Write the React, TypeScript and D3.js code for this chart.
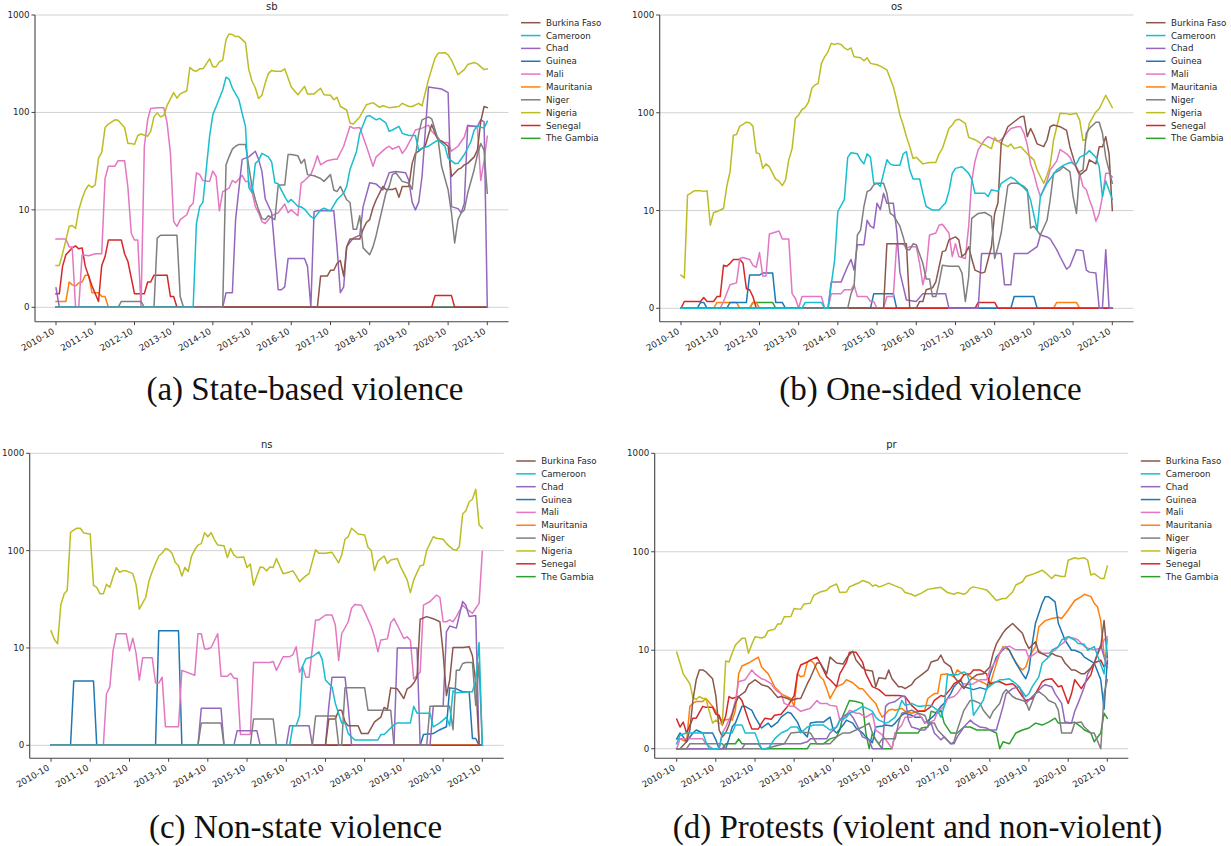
import React from "react";
import * as d3 from "d3";

// Countries in legend order, with their line colours
const COUNTRIES = ["Burkina Faso", "Cameroon", "Chad", "Guinea", "Mali", "Mauritania", "Niger", "Nigeria", "Senegal", "The Gambia"];
const COLORS = ["#8c564b", "#17becf", "#9467bd", "#1f77b4", "#e377c2", "#ff7f0e", "#7f7f7f", "#bcbd22", "#d62728", "#2ca02c"];
// Stacking order of the lines (first drawn at the bottom)
const DRAW_ORDER = ["The Gambia", "Mauritania", "Guinea", "Senegal", "Mali", "Nigeria", "Chad", "Burkina Faso", "Niger", "Cameroon"];

const Y_TICKS = [0, 10, 100, 1000];
const TICK_YEARS = [2010, 2011, 2012, 2013, 2014, 2015, 2016, 2017, 2018, 2019, 2020, 2021];
const LAST_MONTH = 132; // months after 2010-10

// Series: [months since 2010-10, monthly count]
// ---- sb: state-based violence ----
const sbBurkinaFaso = [[0,0],[80,0],[81,3.2],[83,3.2],[84,3.8],[85,3.8],[86,4.5],[87,4.8],[88,3.2],[89,6.2],[90,7],[93,7],[94,8],[95,8.7],[96,9],[97,10.5],[98,12.7],[100,17.4],[101,16.2],[103,16.2],[104,16.7],[105,13.5],[106,17.4],[108,17.4],[109,30],[110,38],[111,40],[113,45],[114,59],[115,75],[116,61],[117,52],[118,51],[120,45],[121,22],[123,26],[124,27],[125,29],[126,30],[128,35],[129,41],[130,81],[131,115],[132,112]];
const sbCameroon = [[0,0],[42,0],[43,8.6],[44,10.8],[45,12],[47,57],[48,95],[49,115],[51,170],[52,230],[53,220],[54,178],[56,135],[57,98],[58,72],[59,17],[60,15],[61,30],[62,32],[63,38],[65,35],[66,31],[67,19],[68,18.5],[70,13.7],[71,12],[72,12.8],[74,10.9],[75,10.7],[76,10.2],[77,9.7],[78,9.3],[79,9.1],[81,10],[82,10.4],[84,9.9],[85,11.2],[86,12.7],[88,14.9],[89,17.4],[90,26],[92,40],[93,61],[95,91],[96,93],[98,84],[99,87],[101,78],[102,64],[103,66],[105,72],[106,61],[108,58],[110,58],[111,41],[112,43],[114,45],[116,50],[117,52],[119,45],[120,34],[122,30],[123,30],[125,37],[127,50],[128,66],[129,72],[131,69],[132,81]];
const sbChad = [[0,2],[1,0],[51,0],[52,1.5],[54,1.5],[55,9],[57,33],[59,35],[61,40],[62,33],[63,25],[64,13],[66,9.7],[68,1.8],[69,1.8],[70,2.1],[71,5],[76,5],[77,4.2],[78,0],[79,9.8],[80,9.9],[85,9.9],[86,6.2],[87,1.5],[88,2.1],[89,6.2],[91,7.1],[93,7.4],[94,10.8],[96,19],[98,18.4],[100,16],[102,24],[104,24.7],[107,24],[108,20],[109,12],[110,10],[111,12],[112,22],[113,61],[114,182],[116,178],[118,174],[120,160],[121,10.8],[123,10.3],[124,9.7],[125,11.7],[126,73],[128,72],[129,72],[130,84],[131,80],[132,0]];
const sbGuinea = [[0,0],[132,0]];
const sbMali = [[0,7],[3,7],[4,6.2],[5,6.2],[6,0],[7,0],[8,5.4],[10,5.3],[12,5.5],[14,5.5],[15,21],[16,28],[18,28],[19,32],[21,32],[22,17],[23,7.6],[24,6.9],[25,6.9],[26,0],[27,45],[28,84],[29,110],[31,112],[33,112],[34,78],[35,38],[36,8.8],[37,8.3],[38,9],[40,9.5],[41,10.8],[42,11.7],[43,24],[44,23],[45,20],[47,19.6],[48,25],[49,22],[50,9.9],[51,15.4],[52,16],[53,16.7],[54,20],[55,19],[57,22.6],[58,19.6],[59,19.6],[60,15.4],[61,10.8],[62,9.7],[63,8.8],[64,8.6],[66,9.4],[68,9.7],[70,11.5],[71,9.7],[72,10],[74,9.4],[75,18.8],[76,20],[78,23],[79,28],[80,36],[81,29],[83,32],[85,33],[86,33],[88,45],[90,72],[91,69],[93,70],[95,45],[97,28],[98,35],[101,43],[102,45],[103,42],[105,45],[106,38],[107,42],[109,56],[110,66],[112,69],[114,74],[115,64],[117,55],[118,49],[120,49],[121,40],[123,45],[125,56],[126,74],[128,72],[129,69],[130,20],[131,32],[132,57]];
const sbMauritania = [[0,0.6],[3,0.6],[4,2.6],[5,2.3],[6,2.2],[7,2.5],[8,2.6],[9,3.3],[10,3.3],[11,1.5],[13,1.5],[14,1.1],[15,1.1],[16,0],[132,0]];
const sbNiger = [[0,0],[19,0],[20,0.6],[26,0.6],[27,0],[30,0],[31,7.1],[32,7.4],[37,7.4],[38,1.1],[39,0],[51,0],[52,29],[53,35],[54,42],[55,45],[56,47],[58,47],[59,28],[60,17.4],[61,12.7],[62,10],[63,9.1],[64,9],[65,9.4],[67,9],[68,18],[70,18],[71,37],[72,37],[74,36],[75,30],[76,33],[77,23],[79,22.4],[81,21],[82,19.6],[84,23],[85,16],[86,15.4],[87,17.4],[89,12.7],[90,11.9],[91,8],[92,8],[93,9.4],[94,6.1],[96,5.4],[97,6.2],[98,7.4],[101,14.8],[102,17.4],[103,23],[104,24],[106,19.6],[108,18.8],[109,16.2],[110,35],[111,61],[112,84],[114,90],[115,86],[117,52],[118,28],[120,16],[121,9.7],[122,6.6],[123,9],[124,9.7],[125,10],[126,14.8],[128,26],[129,37],[130,48],[131,41],[132,14.8]];
const sbNigeria = [[0,4.3],[1,4.3],[2,5.5],[4,8.3],[5,8.4],[6,8.1],[7,10],[8,13],[9,16],[10,18],[11,17],[12,18],[13,34],[14,39],[15,70],[16,76],[18,84],[19,83],[21,70],[22,48],[23,48],[24,47],[25,58],[26,60],[28,57],[29,64],[30,90],[31,99],[32,90],[33,93],[34,118],[36,160],[37,140],[38,155],[40,167],[41,290],[42,270],[43,265],[44,280],[45,280],[47,355],[48,295],[49,295],[50,330],[51,345],[52,560],[53,640],[54,630],[55,600],[56,600],[58,520],[59,275],[60,210],[61,178],[62,139],[63,150],[64,200],[65,250],[66,270],[67,265],[69,265],[70,280],[72,182],[74,152],[76,185],[77,155],[79,155],[81,177],[82,152],[84,150],[85,135],[86,143],[87,115],[89,106],[90,78],[91,76],[93,90],[95,120],[97,126],[99,113],[100,117],[102,112],[105,115],[106,124],[108,115],[109,115],[111,124],[112,117],[113,158],[114,217],[116,362],[117,407],[119,410],[120,390],[121,345],[123,244],[125,275],[126,310],[128,325],[129,315],[131,275],[132,280]];
const sbSenegal = [[0,1.4],[1,1.4],[2,4.2],[3,5.4],[5,6.1],[6,6.3],[7,6],[8,6.1],[9,4.2],[11,2.2],[13,0.6],[14,4.3],[15,5.2],[16,6.9],[20,6.9],[21,5.5],[22,4.7],[24,1.4],[27,1.4],[28,2.6],[29,2.6],[30,3.3],[34,3.3],[35,1.1],[36,1.1],[37,0],[115,0],[116,1.2],[121,1.2],[122,0],[132,0]];
const sbTheGambia = [[0,0],[132,0]];

// ---- os: one-sided violence ----
const osBurkinaFaso = [[0,0],[62,0],[63,6.6],[69,6.6],[70,0],[72,0],[73,0.7],[74,0.7],[75,1.9],[77,2.1],[78,2.7],[80,5.8],[81,5.9],[82,7],[84,7.3],[85,7],[86,5.3],[87,5.6],[88,6.3],[89,5.1],[90,3.9],[92,3.6],[93,3.7],[95,6.3],[96,9.7],[97,12],[98,49],[100,72],[102,81],[104,91],[105,92],[106,57],[107,69],[108,59],[109,48],[111,45],[112,53],[113,72],[114,75],[116,72],[118,66],[119,45],[121,27],[122,23],[124,26],[125,33],[127,30],[128,45],[129,45],[130,57],[131,38],[132,10]];
const osCameroon = [[0,0],[37,0],[38,0.6],[43,0.6],[44,0],[45,0],[47,4.9],[48,9.9],[50,13],[51,35],[52,39],[54,38],[55,33],[56,30],[57,38],[58,35],[59,19],[60,19],[61,17.6],[62,24],[63,33],[64,30],[65,29],[67,29],[68,38],[69,40],[70,26],[71,21],[73,21],[74,15],[75,11],[77,10.1],[79,10.1],[81,12],[82,15.7],[83,24],[84,27],[86,28],[88,24],[89,21],[90,15],[93,15],[94,13.9],[95,16.3],[97,15.7],[98,19],[99,20],[101,22],[102,21],[104,18.3],[105,17],[106,15.7],[107,12.8],[109,8],[110,13.9],[112,19],[115,26],[117,29],[119,31],[121,30],[122,35],[124,38],[125,41],[127,35],[128,28],[129,13.9],[130,20],[132,13]];
const osChad = [[0,0],[45,0],[46,2.7],[49,2.7],[51,4.3],[52,5],[53,3.9],[54,6.5],[56,6.5],[57,9],[58,8.4],[59,8.2],[60,11.9],[61,10.2],[62,15],[63,11.9],[65,11.9],[66,8],[67,3.7],[69,0.85],[72,0.7],[74,1.5],[81,1.5],[82,0],[91,0],[92,5.6],[98,5.6],[99,2.4],[101,2.4],[102,5.6],[106,5.6],[109,6.3],[110,7.5],[112,7.3],[113,7.1],[115,6],[116,5.3],[118,4],[119,4.3],[121,6],[123,5.9],[124,3.9],[125,3.7],[127,3.6],[128,0],[129,0],[130,6],[131,0],[132,0]];
const osGuinea = [[0,0],[5,0],[6,0.6],[7,0.6],[8,0],[14,0],[15,0.6],[20,0.6],[21,3.4],[24,3.4],[25,3.6],[28,3.6],[29,0.6],[31,0.6],[32,0],[58,0],[59,1.5],[65,1.5],[66,0],[101,0],[102,1.2],[108,1.2],[109,0],[132,0]];
const osMali = [[0,0],[12,0],[13,0.7],[15,2.4],[17,2.6],[18,5.1],[19,5.2],[21,5],[22,4.4],[23,4.2],[24,5.7],[25,3.3],[26,3.3],[27,7.6],[28,7.7],[30,7.9],[31,7.1],[33,7.1],[34,1.5],[35,1],[36,0],[37,1.2],[43,1.2],[44,0],[45,0],[46,1.5],[49,1.5],[50,1.9],[52,1.9],[53,2.4],[54,1.2],[57,1.2],[58,0.7],[59,0.7],[60,0],[62,0],[63,1.2],[65,1.2],[66,6.6],[68,6.6],[69,6.1],[70,6.3],[72,6.3],[73,4.6],[74,2.4],[75,3.9],[76,7.5],[78,7.7],[79,8.5],[80,8.6],[82,7.7],[83,5.3],[84,6.6],[85,5.3],[87,5.1],[88,8.4],[89,20],[90,32],[91,42],[93,53],[94,57],[96,53],[97,51],[98,53],[100,64],[101,69],[103,72],[104,72],[105,62],[106,47],[107,30],[108,24],[109,17.6],[110,13.9],[112,20],[113,26],[115,32],[116,42],[117,40],[118,38],[119,35],[120,30],[121,28],[122,24],[123,17.6],[124,16.3],[125,13],[126,10.5],[127,8.9],[128,9.7],[129,13.9],[130,24],[131,24],[132,22]];
const osMauritania = [[0,0],[10,0],[11,0.6],[17,0.6],[18,0],[21,0],[22,0.6],[23,0.6],[24,0],[114,0],[115,0.6],[121,0.6],[122,0],[132,0]];
const osNiger = [[0,0],[51,0],[52,1.5],[53,2.2],[54,7.5],[55,8],[56,11],[57,15.6],[58,16.3],[59,18.3],[60,19],[62,19],[63,15],[64,9.7],[65,9.5],[67,8.4],[68,7.3],[69,6],[70,6],[71,6.6],[72,6.5],[74,4.6],[75,3],[76,3],[77,1.2],[78,1.2],[79,2.6],[80,4.4],[82,4.3],[85,4.3],[86,3.6],[87,0.7],[88,3.2],[89,9.2],[91,9.7],[93,9.8],[95,9.4],[96,5.1],[97,6.3],[98,7.7],[100,18],[101,19],[103,19],[105,17.6],[106,16.3],[107,8.2],[108,8.4],[110,7.5],[112,9],[113,12.8],[114,24],[116,26],[117,28],[119,25],[120,13.9],[121,9.7],[122,25],[123,26],[124,62],[125,69],[127,80],[128,80],[129,62],[130,35],[132,19]];
const osNigeria = [[0,3.4],[1,3.1],[2,14.4],[4,15.9],[6,15.9],[7,15.7],[8,15.9],[9,8.5],[10,9.8],[11,9.9],[13,10.5],[14,17.6],[15,25],[16,59],[17,60],[18,73],[19,76],[20,80],[21,79],[22,73],[23,39],[24,38],[25,27],[26,30],[27,28],[28,24],[29,21],[30,20],[31,18],[32,20.6],[33,33],[34,43],[35,88],[36,95],[37,108],[38,113],[39,129],[40,178],[41,192],[42,200],[43,320],[44,375],[45,420],[46,513],[47,500],[48,513],[49,500],[50,460],[51,440],[52,460],[53,375],[55,365],[56,340],[57,365],[58,320],[60,310],[61,300],[63,275],[65,185],[66,135],[67,95],[68,75],[69,57],[70,45],[71,34],[72,35],[74,30],[76,31],[78,31],[79,38],[80,43],[82,69],[83,75],[84,84],[85,86],[87,78],[88,56],[90,53],[92,48],[93,47],[95,43],[96,56],[97,51],[98,49],[100,45],[101,48],[102,43],[104,45],[106,38],[108,33],[109,26],[111,19],[112,23],[113,29],[114,52],[116,99],[118,98],[119,96],[121,99],[122,84],[123,52],[124,54],[125,78],[127,102],[128,110],[130,151],[132,113]];
const osSenegal = [[0,0],[1,0.7],[6,0.7],[7,1.1],[8,0.7],[10,0.7],[11,1.2],[12,1.2],[13,4.4],[14,4.3],[15,4.6],[16,5],[18,5],[19,4.6],[20,2],[21,1.9],[22,1.2],[23,0],[90,0],[91,0.6],[96,0.6],[97,0],[132,0]];
const osTheGambia = [[0,0],[21,0],[22,0.6],[28,0.6],[29,0],[132,0]];

// ---- ns: non-state violence ----
const nsBurkinaFaso = [[0,0],[84,0],[85,2.7],[87,2.7],[88,3.6],[89,3.6],[90,2.4],[91,2],[94,2],[95,1.2],[97,1.2],[99,2.4],[101,2.9],[102,3.9],[103,3.7],[104,5.9],[106,5.8],[107,5.3],[108,4.8],[109,5.8],[110,6],[111,6.4],[112,7],[113,19.7],[115,21],[117,20],[119,18.6],[120,9.5],[121,5.1],[122,6.7],[123,10.1],[126,10.1],[128,10.3],[129,9.2],[130,6.5],[131,0],[132,0]];
const nsCameroon = [[0,0],[73,0],[74,2],[75,2],[76,3],[77,8.1],[78,8.9],[80,9.1],[82,9.6],[83,8.8],[84,6.7],[86,6],[87,4.3],[89,2.3],[90,2.3],[91,1.2],[93,0.55],[100,0.55],[101,1.1],[102,1.1],[105,2.1],[106,2.3],[110,2.3],[111,4],[112,3.3],[116,3.3],[117,1.9],[118,2.1],[119,2.3],[121,2.9],[122,2],[123,5.6],[124,5.4],[128,5.5],[129,5.5],[130,6.7],[131,11.4],[132,0]];
const nsChad = [[0,0],[45,0],[46,3.8],[52,3.8],[53,0],[56,0],[57,1.5],[63,1.5],[64,0],[72,0],[73,2],[79,2],[80,0],[84,0],[85,4],[86,7],[90,7],[91,4],[92,0],[105,0],[106,10],[112,10],[113,0],[116,0],[117,4],[120,4],[121,14.7],[122,16.8],[124,16],[126,30],[127,27.5],[128,21],[130,21.5],[131,0],[132,0]];
const nsGuinea = [[0,0],[6,0],[7,6.6],[13,6.6],[14,0],[32,0],[33,15],[39,15],[40,0],[113,0],[114,1.1],[117,1.2],[119,1.6],[121,1.9],[122,5.9],[124,5.8],[126,5.5],[128,5.5],[129,0.7],[130,0.7],[131,0],[132,0]];
const nsMali = [[0,0],[16,0],[17,5.3],[18,6],[19,9.7],[20,14],[23,14],[24,9.7],[25,12.6],[26,9.5],[27,6.7],[28,9],[31,9],[32,6.4],[33,6.4],[34,7],[35,1.9],[39,1.9],[40,7.7],[44,7.2],[45,14],[46,14],[47,9.9],[48,9.9],[49,10.1],[51,14],[52,7.1],[54,7.1],[55,7.4],[56,6.9],[57,6.9],[58,1.1],[61,1.1],[62,8.5],[67,8.5],[68,8.6],[69,7.7],[71,9.1],[73,9.1],[74,9.3],[75,10.3],[76,7.5],[77,8.1],[78,7],[79,7],[81,19.4],[82,19.4],[84,21.8],[86,21.8],[87,17.2],[88,8.7],[89,14],[91,18.6],[92,25.6],[93,27.9],[95,27.5],[96,23.5],[98,16.6],[99,13],[100,9.6],[101,12.1],[103,12.4],[104,18.2],[105,20],[106,17.2],[108,12.5],[109,13],[110,12],[111,6.8],[113,7.5],[114,27.5],[116,30],[118,35],[119,33],[120,18.6],[121,18.6],[122,19.4],[123,18.6],[124,21],[126,27.5],[127,25.6],[129,22.7],[130,25.6],[131,28.7],[132,98]];
const nsMauritania = [[0,0],[132,0]];
const nsNiger = [[0,0],[45,0],[46,2.3],[52,2.3],[53,0],[61,0],[62,2.7],[68,2.7],[69,0],[80,0],[81,3],[87,3],[88,0],[89,0],[90,5.9],[96,5.9],[97,3.6],[104,3.6],[105,0],[115,0],[116,4],[122,4],[123,1.6],[124,7.7],[125,7.7],[126,8.4],[127,8.5],[129,8.5],[130,4.1],[131,8.5],[132,0]];
const nsNigeria = [[0,15],[1,12.3],[2,11],[3,28],[4,36],[5,39],[6,154],[7,163],[8,170],[9,170],[10,152],[12,148],[13,44],[14,42],[15,36],[16,36],[17,45],[18,42],[19,54],[20,67],[21,60],[22,62],[23,62],[25,58],[26,45],[27,25],[28,29],[29,33],[30,49],[31,61],[32,74],[33,88],[34,94],[35,105],[36,102],[37,94],[38,76],[39,70],[40,55],[41,67],[42,61],[43,87],[44,102],[45,114],[46,118],[47,153],[48,139],[49,153],[50,130],[51,114],[53,112],[54,85],[55,105],[56,90],[57,85],[59,86],[60,67],[61,73],[62,44],[63,55],[64,68],[65,67],[66,62],[67,68],[68,67],[69,83],[71,58],[72,59],[74,62],[75,55],[76,48],[78,55],[79,58],[81,102],[82,94],[84,94],[86,96],[88,75],[89,90],[90,131],[91,139],[92,170],[94,148],[96,145],[97,108],[98,101],[99,62],[100,78],[102,88],[103,74],[104,80],[106,83],[107,68],[109,50],[110,37],[111,50],[113,70],[114,71],[115,101],[117,139],[118,134],[120,131],[121,118],[123,103],[124,101],[125,110],[126,238],[127,257],[128,318],[129,337],[130,427],[131,184],[132,170]];
const nsSenegal = [[0,0],[132,0]];
const nsTheGambia = [[0,0],[132,0]];

// ---- pr: protests ----
const prBurkinaFaso = [[0,0],[1,0],[3,0.7],[4,1.9],[5,4.9],[6,7],[7,8],[8,8],[9,7.8],[11,7.1],[12,5.4],[13,1.9],[14,1.2],[15,1.6],[16,2.4],[18,4.6],[19,5.3],[21,5.8],[22,6.5],[24,7],[26,6.5],[28,6.3],[29,6],[31,5.2],[32,5.3],[34,5.1],[35,4.9],[37,5.1],[38,5.1],[40,6.6],[41,7.2],[43,8.7],[44,8.7],[46,7.6],[47,9.3],[49,8.7],[51,8.6],[52,9.2],[54,9.9],[55,9],[57,8.2],[58,8],[60,7.9],[61,6.3],[62,7.2],[64,7.1],[65,8],[66,7.1],[68,6.3],[69,6.3],[70,6.1],[72,6.5],[73,7],[75,7.5],[77,8],[78,8.8],[80,9],[81,9.5],[82,8.8],[84,8.3],[85,7.3],[87,6.5],[88,6.1],[90,7],[92,7.5],[94,7.6],[96,8.3],[97,9.7],[98,11.6],[100,15],[101,16.4],[103,18.7],[104,17.3],[106,14.9],[107,12],[108,10.4],[110,12.2],[111,9.8],[113,9.5],[114,9.3],[115,9.7],[116,9.5],[118,9.3],[119,8.7],[121,8],[122,8],[124,7.6],[125,7.6],[127,8.2],[128,8.7],[130,10.9],[131,20],[132,9.3]];
const prCameroon = [[0,0.5],[1,1.4],[3,1.6],[8,1.6],[9,0.7],[10,0],[13,0],[14,1.6],[17,1.6],[18,2.4],[20,2.4],[21,1.6],[24,1.6],[25,0.7],[26,0],[28,0],[30,1],[32,1.6],[34,1.9],[35,2.2],[37,2.2],[38,1.6],[40,2.2],[42,2.4],[45,2.4],[47,1.9],[49,2.2],[50,2.9],[52,3.2],[53,3.6],[55,3.9],[57,4.3],[59,4],[60,3.8],[61,3.2],[62,2.9],[64,2.6],[65,2.7],[67,3.2],[68,3.9],[69,4.9],[70,4.4],[72,4.6],[74,4.3],[75,4.3],[77,4.4],[78,4.4],[80,3.9],[81,3.2],[82,4.3],[83,7.5],[86,7.5],[88,7.8],[89,7.6],[90,6.6],[91,3.4],[92,3.9],[94,4.9],[95,6.1],[97,6.6],[99,7],[100,7],[102,7.1],[104,6.6],[105,6.3],[107,5.3],[108,5.6],[109,6.3],[111,7.3],[112,8.7],[114,9.3],[115,10],[117,10.9],[118,12.7],[120,13.7],[122,12.7],[123,11.7],[125,11.5],[126,10],[128,10.9],[129,9.5],[131,7.6],[132,13]];
const prChad = [[0,0],[20,0],[21,0.5],[38,0.5],[40,0.7],[41,1],[46,1],[47,1.6],[49,2.2],[50,2.9],[51,3.3],[53,3.6],[54,3.2],[55,2.6],[56,1.9],[57,1.2],[59,0.9],[60,0],[63,0],[64,4.3],[65,4.6],[67,4.8],[69,5.3],[70,5.3],[71,2.9],[72,2.2],[75,1.9],[76,1.9],[78,2.6],[79,1.6],[81,0.9],[82,1.2],[84,0.5],[85,0.5],[86,1.2],[88,2.2],[90,2.9],[91,2.6],[93,2.2],[95,2.1],[96,1.9],[98,1.9],[100,4.3],[101,5.6],[103,6.1],[105,6.3],[106,5.6],[107,4.6],[109,5.3],[110,5.6],[112,6.3],[113,6.5],[115,6.3],[116,5.6],[118,4.6],[119,2.7],[121,2.6],[122,3.8],[123,4.6],[125,6.3],[126,7.6],[128,8.7],[129,9.7],[130,11.3],[131,9.3],[132,8.3]];
const prGuinea = [[0,1],[1,1.6],[2,1.2],[3,0.7],[5,1.6],[6,1.9],[8,1.6],[11,1.6],[12,0.9],[13,0],[15,0],[16,1],[17,2.2],[18,2.6],[20,4.3],[21,4.3],[23,3.9],[24,3.2],[26,2.1],[28,2.6],[29,2.2],[31,2.7],[32,3.2],[34,3.7],[35,3.6],[37,2.7],[38,1.9],[40,1.2],[41,2.6],[43,2.7],[45,2.7],[47,3.2],[48,1.9],[49,1.6],[51,2.4],[52,2.9],[54,2.6],[55,2.1],[57,1.6],[58,1.2],[60,0.6],[61,2.2],[63,2.3],[64,2.4],[66,2.3],[67,2.6],[69,3.4],[70,3.6],[72,3.4],[73,3.2],[75,3.2],[76,2.6],[78,3.1],[79,3.4],[81,4.3],[82,4.6],[84,5.6],[85,6.3],[87,7],[88,6.3],[90,6.1],[91,6],[93,6.2],[95,6],[96,7.5],[98,9.3],[99,9.7],[101,10.9],[102,10],[104,8.7],[106,7.6],[107,7.1],[108,8],[109,11.7],[110,18.8],[112,30],[113,35],[114,35],[116,31],[117,18.8],[119,12.7],[121,10],[122,10],[124,9.7],[125,9.3],[127,8.9],[128,8.7],[130,7],[131,4],[132,9]];
const prMali = [[0,0],[1,1],[2,1],[8,1],[9,0.5],[11,0],[13,0],[14,1.6],[15,2.2],[17,3.6],[18,4.9],[19,6.8],[21,7],[22,7.5],[23,8],[24,7.6],[26,7.1],[27,7],[29,6.6],[30,6.1],[31,5.8],[32,5.6],[33,4.6],[35,4.3],[36,4.3],[38,3.8],[39,3.9],[41,4.1],[43,4.9],[44,4.6],[46,4.6],[47,4.4],[49,4.3],[50,2.9],[51,2.9],[53,3.9],[55,3.6],[56,3.6],[58,3.2],[60,3.6],[61,1.9],[63,1.4],[65,0.5],[66,0],[67,1.6],[69,2.4],[70,3.2],[72,3.2],[74,3.6],[76,2.7],[77,2.6],[79,2.9],[80,3.8],[82,4.3],[83,5.1],[85,5.3],[86,5.6],[88,6.6],[90,6.5],[91,6.6],[93,7],[95,7],[96,8],[98,9],[99,9.7],[100,10.5],[102,11],[103,10.5],[104,10.1],[107,10.1],[108,9.2],[110,9.7],[111,10],[112,9.7],[114,9.7],[116,10],[117,10.9],[119,12.2],[120,13.7],[122,13.2],[123,12.7],[125,10.9],[126,10.5],[128,10.1],[130,10.5],[131,12.7],[132,13.7]];
const prMauritania = [[0,1],[1,1],[3,0.7],[4,4.3],[5,4.6],[6,4.8],[8,4.8],[9,5.1],[11,4.3],[12,3.8],[13,3.1],[14,2.9],[16,3],[17,2.9],[18,3.9],[19,7.6],[20,8.4],[22,8.7],[24,9.1],[25,9.3],[26,8.3],[28,7.6],[29,7],[30,6.3],[32,5.6],[33,5.4],[35,5.1],[36,4.3],[37,7.6],[38,7.3],[39,7.4],[40,8.8],[41,9],[42,8.7],[44,7.3],[45,7],[46,6.1],[47,5.1],[49,6.3],[51,6.6],[52,7],[54,6.7],[56,6.1],[57,6.1],[59,5.3],[61,4.6],[62,3.8],[63,3.2],[65,3.9],[66,4],[67,3.9],[69,4.1],[70,3.8],[72,3.6],[74,3.8],[76,3.9],[77,5.1],[79,5.6],[80,5.6],[81,7.5],[83,7.6],[85,7.3],[86,8],[88,7.5],[89,7.6],[91,7.1],[92,7],[94,6.7],[95,6.5],[96,6.4],[97,7.6],[99,9.7],[100,10.9],[102,10],[103,9.3],[105,8.3],[106,8],[107,8.3],[108,9.3],[110,10.9],[111,17.3],[113,20],[115,21],[117,21.6],[118,21],[120,25.6],[122,32],[124,35],[125,37],[127,35],[128,30],[129,27.7],[130,20],[131,9.5],[132,9.2]];
const prNiger = [[0,0],[3,0],[4,0.5],[14,0.5],[15,0],[27,0],[33,0.5],[35,1.6],[38,1.7],[41,1.6],[43,0.5],[47,0.5],[49,1.2],[51,1.6],[53,1.6],[55,1.9],[57,2.2],[59,2.6],[60,1.6],[61,0.9],[62,0.5],[63,1],[67,1],[68,2.6],[69,3.6],[71,3.8],[72,3.9],[74,3.6],[76,3.4],[77,2.6],[79,2.6],[80,1.9],[82,1.2],[84,0.5],[85,0.7],[86,1.9],[88,3.9],[90,4.9],[91,4.9],[93,4.6],[94,3.9],[96,3.1],[97,3.8],[99,4.6],[100,5.6],[101,6],[103,5.3],[104,5.1],[106,4.9],[107,4.8],[108,3.9],[110,5.6],[111,5.8],[113,5.3],[114,4.9],[116,4.6],[117,3.9],[118,1.6],[121,1.6],[122,2.6],[124,2.7],[125,2.2],[127,1.6],[128,1.6],[130,0],[131,5.6],[132,7]];
const prNigeria = [[0,9.8],[1,8.7],[2,7.6],[4,6.6],[5,5.2],[6,5],[7,5.3],[8,5.1],[9,5.1],[10,3.8],[11,2.6],[12,2.9],[13,2.6],[14,2.5],[15,8.9],[16,8.8],[17,9.7],[18,11.3],[20,13.2],[21,13.2],[22,9.7],[23,11.5],[24,13.7],[26,13.3],[27,13.7],[28,15.8],[30,16.3],[31,18.5],[32,18.5],[33,21.9],[35,22],[36,26.6],[38,26],[39,29.5],[41,30],[42,36],[44,39],[46,40.7],[47,44],[49,47],[50,38.5],[52,39],[53,44],[55,47],[56,48.5],[57,51],[59,48.5],[60,45],[61,46],[62,44],[63,45],[65,48],[67,45],[69,42.5],[70,38.5],[72,37],[73,35.5],[75,38],[77,41.5],[79,42.5],[81,43.5],[83,38.5],[85,37],[86,38.5],[88,37],[89,38.5],[90,42.5],[91,44],[93,42.5],[95,41],[96,38],[98,32],[100,33.5],[101,33.5],[103,39],[104,46],[106,49.6],[107,56],[109,59],[111,62.6],[112,65],[113,61.5],[115,53.5],[116,58],[118,56],[119,56],[120,82],[122,87],[123,85],[125,87],[126,82],[127,58],[128,60],[130,53.5],[131,53.5],[132,71.6]];
const prSenegal = [[0,3],[1,2.2],[2,2.7],[3,1.6],[5,3.1],[6,3.1],[8,4.3],[9,4.2],[11,4.2],[12,3.5],[13,3.4],[14,2.4],[15,3.3],[16,5.3],[17,5.1],[19,5.3],[20,4.9],[22,2.9],[23,2],[25,2],[26,2.6],[27,3.1],[29,3],[30,3.4],[32,3.5],[33,3.9],[34,4.3],[36,5.4],[37,7.6],[38,8.5],[40,8.8],[41,9],[43,9.3],[44,8.7],[46,7.3],[47,7],[49,6.3],[50,7.6],[52,8.8],[53,9.8],[55,9.8],[57,8.8],[58,7.6],[60,6.3],[62,6],[64,5.4],[67,5.4],[68,5.4],[70,5.3],[72,4.4],[74,3.8],[76,3.8],[78,4.3],[79,4.9],[81,5.4],[82,5.3],[84,6.1],[85,6.6],[87,7],[88,7.5],[90,7.6],[91,8],[93,8],[95,7.6],[96,6.6],[98,6.8],[99,6.8],[101,6.5],[103,6.6],[104,6.3],[106,5.3],[107,4.9],[109,5.1],[110,5.6],[112,6.8],[113,7],[115,7.1],[117,6.3],[118,6.4],[120,4.6],[121,5.6],[122,7],[124,6.1],[125,6.6],[127,7.5],[128,8.7],[130,9],[131,8.3],[132,8.7]];
const prTheGambia = [[0,0],[14,0],[15,0.5],[18,0.5],[19,1],[20,0.5],[25,0.5],[26,0],[40,0],[41,0.5],[45,0.5],[47,1],[49,1.2],[50,1.9],[51,3.4],[53,4.9],[55,4.8],[57,4.6],[58,1.6],[59,0],[60,1.6],[61,0.9],[63,0],[66,0],[67,1.6],[74,1.6],[75,2.1],[77,2.2],[78,3.8],[80,3.6],[81,3.9],[82,2.6],[84,1.6],[86,1.6],[88,2.2],[90,2.2],[92,1.9],[96,1.9],[98,1.6],[99,0],[100,0.7],[102,0.5],[104,1.6],[106,1.9],[108,2.1],[110,2.6],[112,2.4],[114,2.7],[116,3.1],[117,2.6],[121,2.6],[122,2.7],[124,2.2],[125,1.9],[127,1.6],[128,0.7],[130,1.6],[131,3.6],[132,3.1]];

type Pt = number[];
type SeriesMap = Record<string, Pt[]>;

const SB: SeriesMap = { "Burkina Faso": sbBurkinaFaso, "Cameroon": sbCameroon, "Chad": sbChad, "Guinea": sbGuinea, "Mali": sbMali, "Mauritania": sbMauritania, "Niger": sbNiger, "Nigeria": sbNigeria, "Senegal": sbSenegal, "The Gambia": sbTheGambia };
const OS: SeriesMap = { "Burkina Faso": osBurkinaFaso, "Cameroon": osCameroon, "Chad": osChad, "Guinea": osGuinea, "Mali": osMali, "Mauritania": osMauritania, "Niger": osNiger, "Nigeria": osNigeria, "Senegal": osSenegal, "The Gambia": osTheGambia };
const NS: SeriesMap = { "Burkina Faso": nsBurkinaFaso, "Cameroon": nsCameroon, "Chad": nsChad, "Guinea": nsGuinea, "Mali": nsMali, "Mauritania": nsMauritania, "Niger": nsNiger, "Nigeria": nsNigeria, "Senegal": nsSenegal, "The Gambia": nsTheGambia };
const PR: SeriesMap = { "Burkina Faso": prBurkinaFaso, "Cameroon": prCameroon, "Chad": prChad, "Guinea": prGuinea, "Mali": prMali, "Mauritania": prMauritania, "Niger": prNiger, "Nigeria": prNigeria, "Senegal": prSenegal, "The Gambia": prTheGambia };

// Page placement of the four sub-figures
const PANELS = [
  { title: "sb", caption: "(a) State-based violence", data: SB, left: 35, right: 508.5, x0: 56, x1: 487.3, yZero: 307.3, yTop: 15, bottom: 321.7, capX: 305, capY: 400 },
  { title: "os", caption: "(b) One-sided violence", data: OS, left: 659.7, right: 1133.5, x0: 681, x1: 1112.3, yZero: 308.3, yTop: 15, bottom: 321.7, capX: 930.5, capY: 400 },
  { title: "ns", caption: "(c) Non-state violence", data: NS, left: 29.7, right: 503.7, x0: 51, x1: 482.3, yZero: 745.3, yTop: 453.3, bottom: 758.3, capX: 295.5, capY: 838 },
  { title: "pr", caption: "(d) Protests (violent and non-violent)", data: PR, left: 654.7, right: 1128.3, x0: 676.7, x1: 1107.3, yZero: 748.7, yTop: 453.3, bottom: 758.3, capX: 917.5, capY: 838 },
];

const SANS = "'DejaVu Sans', sans-serif";
const SERIF = "'Liberation Serif', 'DejaVu Serif', serif";

const monthDate = (m: number) => new Date(2010, 9 + m, 1);
// symmetric-log style axis: linear from 0 to 10, logarithmic above
const toDecades = (v: number) => (v <= 10 ? v / 10 : 1 + Math.log10(v / 10));
const fmtMonth = d3.timeFormat("%Y-%m");

function Panel({ p }: { p: (typeof PANELS)[number] }) {
  const x = d3.scaleTime().domain([monthDate(0), monthDate(LAST_MONTH)]).range([p.x0, p.x1]);
  const yLin = d3.scaleLinear().domain([0, 3]).range([p.yZero, p.yTop]);
  const y = (v: number) => yLin(toDecades(v));
  const line = d3
    .line<Pt>()
    .x((d) => x(monthDate(d[0])))
    .y((d) => y(d[1]));

  const legendX = p.right + 12.5;
  const legendY = p.yTop + 7.7;

  return (
    <g>
      {Y_TICKS.map((t) => (
        <line key={"g" + t} x1={p.left} x2={p.right} y1={y(t)} y2={y(t)} stroke="#d2d2d2" strokeWidth={1} />
      ))}
      {DRAW_ORDER.map((c) => (
        <path
          key={c}
          d={line(p.data[c]) || ""}
          fill="none"
          stroke={COLORS[COUNTRIES.indexOf(c)]}
          strokeWidth={1.5}
          strokeLinejoin="round"
          strokeLinecap="square"
        />
      ))}
      <line x1={p.left} x2={p.left} y1={p.yTop} y2={p.bottom} stroke="#444" strokeWidth={1.1} />
      <line x1={p.left} x2={p.right} y1={p.bottom} y2={p.bottom} stroke="#444" strokeWidth={1.1} />
      {Y_TICKS.map((t) => (
        <g key={"yt" + t}>
          <line x1={p.left - 3.5} x2={p.left} y1={y(t)} y2={y(t)} stroke="#444" strokeWidth={1} />
          <text x={p.left - 5.5} y={y(t)} dy="0.35em" textAnchor="end" fontFamily={SANS} fontSize={8.7} fill="#262626">
            {t}
          </text>
        </g>
      ))}
      {TICK_YEARS.map((yr) => {
        const tx = x(new Date(yr, 9, 1));
        return (
          <g key={"xt" + yr}>
            <line x1={tx} x2={tx} y1={p.bottom} y2={p.bottom + 3.5} stroke="#444" strokeWidth={1} />
            <text
              transform={`translate(${tx - 1},${p.bottom + 11.3}) rotate(-30)`}
              textAnchor="end"
              fontFamily={SANS}
              fontSize={8.7}
              fill="#262626"
            >
              {fmtMonth(new Date(yr, 9, 1))}
            </text>
          </g>
        );
      })}
      <text x={(p.left + p.right) / 2} y={p.yTop - 5} textAnchor="middle" fontFamily={SANS} fontSize={10} fill="#262626">
        {p.title}
      </text>
      {COUNTRIES.map((c, i) => (
        <g key={"lg" + c} transform={`translate(${legendX},${legendY + i * 12.85})`}>
          <line x1={0} x2={19.5} y1={0} y2={0} stroke={COLORS[i]} strokeWidth={1.5} />
          <text x={25} y={0} dy="0.35em" fontFamily={SANS} fontSize={8.7} fill="#262626">
            {c}
          </text>
        </g>
      ))}
      <text x={p.capX} y={p.capY} textAnchor="middle" fontFamily={SERIF} fontSize={33} fill="#111">
        {p.caption}
      </text>
    </g>
  );
}

export default function App() {
  return (
    <svg
      width={1231}
      height={846}
      viewBox="0 0 1231 846"
      style={{ position: "absolute", left: 0, top: 0, background: "#fff" }}
    >
      {PANELS.map((p) => (
        <Panel key={p.title} p={p} />
      ))}
    </svg>
  );
}
